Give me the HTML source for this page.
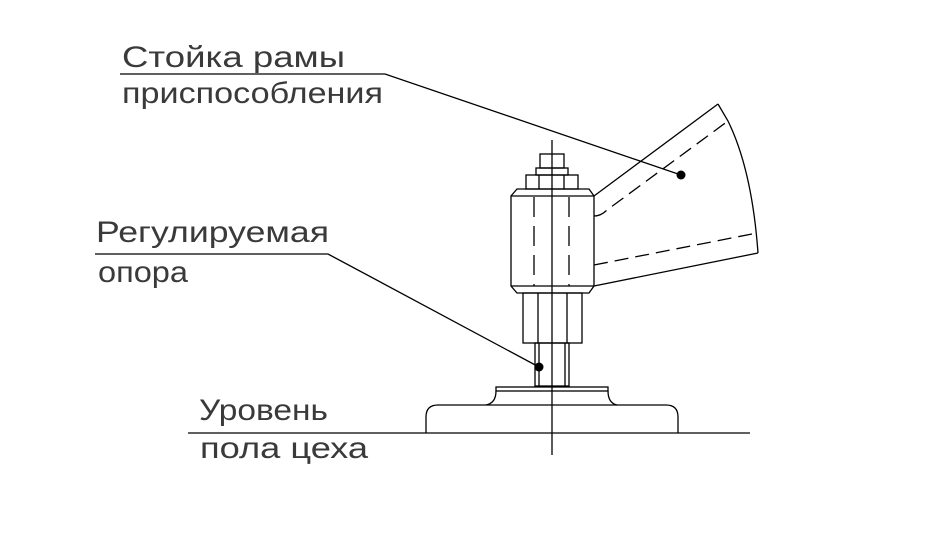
<!DOCTYPE html>
<html><head><meta charset="utf-8"><style>
html,body{margin:0;padding:0;background:#fff;}
svg{display:block;}
text{font-family:"Liberation Sans","DejaVu Sans",sans-serif;font-size:30px;fill:#3a3a3a;}
</style></head><body>
<svg width="932" height="536" viewBox="0 0 932 536" xmlns="http://www.w3.org/2000/svg">
<g fill="none" stroke="#000" stroke-width="1.3">
<line x1="552" y1="140" x2="552" y2="455"/>
<rect x="540" y="154" width="24" height="14"/>
<rect x="536" y="168" width="32" height="7"/>
<rect x="526" y="175" width="52" height="14"/>
<line x1="539" y1="175" x2="539" y2="189"/>
<line x1="564" y1="175" x2="564" y2="189"/>
<polygon points="517,189 589,189 594,196 594,286 589,293 517,293 511,286 511,196"/>
<line x1="511" y1="196" x2="594" y2="196"/>
<line x1="511" y1="286" x2="594" y2="286"/>
<line x1="534" y1="197" x2="534" y2="286" stroke-dasharray="20,9"/>
<line x1="569" y1="197" x2="569" y2="286" stroke-dasharray="20,9"/>
<rect x="523" y="293" width="59" height="50"/>
<line x1="538" y1="293" x2="538" y2="343"/>
<line x1="567" y1="293" x2="567" y2="343"/>
<rect x="535" y="343" width="34" height="43"/>
<line x1="539" y1="343" x2="539" y2="386"/>
<line x1="565" y1="343" x2="565" y2="386"/>
<rect x="496" y="387" width="112" height="4"/>
<path d="M496,391 Q496,403 486,405 M608,391 Q608,403 617,405"/>
<path d="M426,433 L426,417 Q426,405 438,405 L666,405 Q678,405 678,417 L678,433"/>
<line x1="188" y1="433" x2="750" y2="433"/>
<line x1="594" y1="196" x2="718" y2="104"/>
<path d="M718,104 L728,121 Q752,170 758,253"/>
<line x1="758" y1="253" x2="594" y2="286"/>
<path d="M594,216 Q601,216 607,210 L728,121" stroke-dasharray="14,7"/>
<line x1="594" y1="265" x2="757" y2="233" stroke-dasharray="14,7"/>
<polyline points="120,74 385,74 681,175"/>
<polyline points="95,254 328,254 539,367"/>
</g>
<circle cx="681" cy="175" r="4.5" fill="#000"/>
<circle cx="539" cy="367" r="4.5" fill="#000"/>
<text x="122" y="67" textLength="223" lengthAdjust="spacingAndGlyphs">Стойка рамы</text>
<text x="122" y="103" textLength="261" lengthAdjust="spacingAndGlyphs">приспособления</text>
<text x="96" y="242" textLength="233" lengthAdjust="spacingAndGlyphs">Регулируемая</text>
<text x="98" y="282" textLength="90" lengthAdjust="spacingAndGlyphs">опора</text>
<text x="199" y="420" textLength="129" lengthAdjust="spacingAndGlyphs">Уровень</text>
<text x="200" y="458" textLength="168" lengthAdjust="spacingAndGlyphs">пола цеха</text>
</svg>
</body></html>
